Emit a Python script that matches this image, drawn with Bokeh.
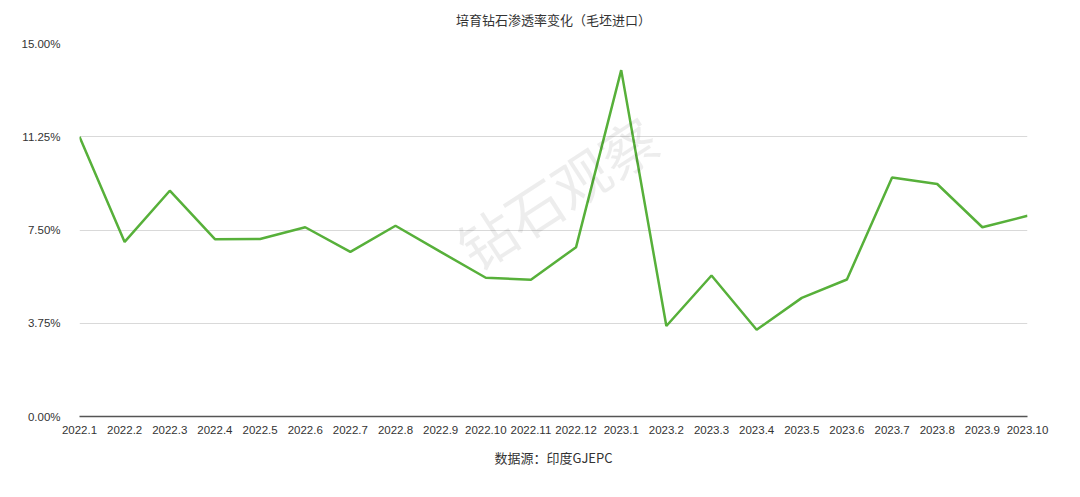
from bokeh.plotting import figure
from bokeh.models import Range1d, FixedTicker, Title, Label, ColumnDataSource
from bokeh.embed import file_html
from bokeh.resources import INLINE
import math

months = ["2022.1", "2022.2", "2022.3", "2022.4", "2022.5", "2022.6", "2022.7",
          "2022.8", "2022.9", "2022.10", "2022.11", "2022.12", "2023.1", "2023.2",
          "2023.3", "2023.4", "2023.5", "2023.6", "2023.7", "2023.8", "2023.9", "2023.10"]
rate = [11.25, 7.02, 9.08, 7.13, 7.14, 7.61, 6.62, 7.67, 6.62, 5.58, 5.50,
        6.81, 13.93, 3.64, 5.67, 3.49, 4.77, 5.51, 9.61, 9.35, 7.61, 8.07]
y_ticks = [0, 3.75, 7.5, 11.25, 15]
y_labels = ["0.00%", "3.75%", "7.50%", "11.25%", "15.00%"]

title_text = "培育钻石渗透率变化（毛坯进口）"
source_text = "数据源：印度GJEPC"
watermark = "钻石观察"

xs = list(range(len(months)))
src = ColumnDataSource(dict(x=xs, y=rate))

p = figure(width=1064, height=475, output_backend="svg", toolbar_location=None,
           x_range=Range1d(0, len(months) - 1), y_range=Range1d(0, 15),
           min_border_left=79, min_border_right=37, min_border_top=40,
           min_border_bottom=10, title=None)
p.outline_line_color = None
p.background_fill_color = "white"

cjk = "Noto Sans CJK SC"
lat = "Liberation Sans"

# small spacer between frame and title, then the title itself
p.add_layout(Title(text=" ", text_font=lat, text_font_size="4px", standoff=0), "above")
p.add_layout(Title(text=title_text, align="center", text_font=cjk,
                   text_font_size="13px", text_font_style="normal",
                   text_color="#333333", standoff=15), "above")
p.add_layout(Title(text=source_text, align="center", text_font=cjk,
                   text_font_size="13px", text_font_style="normal",
                   text_color="#333333", standoff=18), "below")

# watermark
p.add_layout(Label(x=477, y=225, x_units="screen", y_units="screen",
                   text=watermark, angle=math.radians(33), text_align="center",
                   text_baseline="middle", text_font=cjk, text_font_size="56px",
                   text_color="#000000", text_alpha=0.07))

p.line("x", "y", source=src, line_color="#57b03a", line_width=2.5)

# y axis
p.yaxis.ticker = FixedTicker(ticks=y_ticks)
p.yaxis.major_label_overrides = {t: l for t, l in zip(y_ticks, y_labels)}
p.yaxis.axis_line_color = None
p.yaxis.major_tick_line_color = None
p.yaxis.minor_tick_line_color = None
p.yaxis.major_label_standoff = 13
p.yaxis.major_label_text_font = lat
p.yaxis.major_label_text_font_size = "11.5px"
p.yaxis.major_label_text_color = "#333333"

# x axis
p.xaxis.ticker = FixedTicker(ticks=xs)
p.xaxis.major_label_overrides = {i: m for i, m in zip(xs, months)}
p.xaxis.axis_line_color = "#555555"
p.xaxis.axis_line_width = 1.5
p.xaxis.major_tick_line_color = None
p.xaxis.minor_tick_line_color = None
p.xaxis.major_label_standoff = 3
p.xaxis.major_label_text_font = lat
p.xaxis.major_label_text_font_size = "11.5px"
p.xaxis.major_label_text_color = "#333333"

p.xgrid.grid_line_color = None
p.ygrid.grid_line_color = "#d9d9d9"
p.ygrid.grid_line_width = 1

open("out.html", "w").write(file_html(p, INLINE))
